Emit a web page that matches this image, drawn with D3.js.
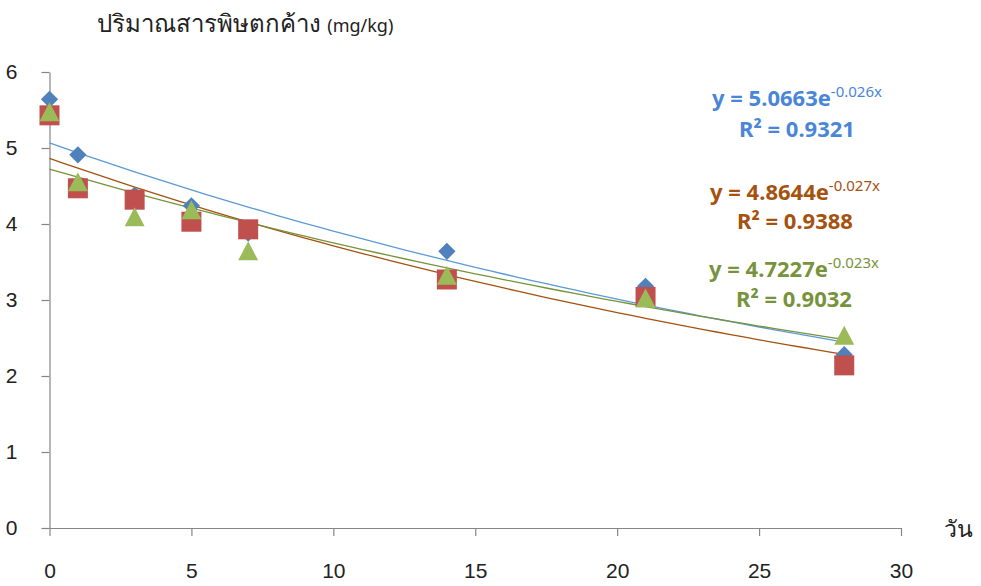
<!DOCTYPE html>
<html lang="th">
<head>
<meta charset="UTF-8">
<title>Residue decay</title>
<script src="https://d3js.org/d3.v7.min.js"></script>
<style>
    body { margin: 0; background: #fff; }
    svg { font-family: 'Noto Sans', 'DejaVu Sans', sans-serif; }
    .tick text { font-size: 21px; fill: #222; }
    .eq { font-weight: bold; font-size: 22px; text-anchor: middle; }
</style>
</head>
<body>
<script>
// days sampled
const days = [0, 1, 3, 5, 7, 14, 21, 28];

// residue values (mg/kg), three series
const seriesA = [5.64, 4.91, 4.38, 4.24, 3.88, 3.64, 3.18, 2.28];
const seriesB = [5.43, 4.47, 4.32, 4.03, 3.93, 3.27, 3.04, 2.14];
const seriesC = [5.47, 4.55, 4.09, 4.18, 3.64, 3.32, 3.02, 2.53];

// exponential trend coefficients y = a * e^(b x)
const trendA = { a: 5.0663, b: -0.026, r2: "0.9321" };
const trendB = { a: 4.8644, b: -0.027, r2: "0.9388" };
const trendC = { a: 4.7227, b: -0.023, r2: "0.9032" };

const xTicks = [0, 5, 10, 15, 20, 25, 30];
const yTicks = [0, 1, 2, 3, 4, 5, 6];

const W = 981, H = 586;
const svg = d3.select("body").append("svg")
    .attr("width", W).attr("height", H);

const x = d3.scaleLinear().domain([0, 30]).range([49.5, 901]);
const y = d3.scaleLinear().domain([0, 6]).range([528, 72]);

// axes
const xAxis = svg.append("g")
    .attr("transform", "translate(0,528)")
    .call(d3.axisBottom(x).tickValues(xTicks).tickFormat(d3.format("d"))
        .tickSize(8).tickSizeOuter(0).tickPadding(27));
const yAxis = svg.append("g")
    .attr("transform", "translate(49.5,0)")
    .call(d3.axisLeft(y).tickValues(yTicks).tickFormat(d3.format("d"))
        .tickSize(8).tickSizeOuter(0).tickPadding(24));
[xAxis, yAxis].forEach(g => {
    g.selectAll("path, line").attr("stroke", "#868686").attr("stroke-width", 1.2);
});

// trend lines
const trendDays = d3.range(0, 28.01, 0.5);
const line = d3.line().x(d => x(d[0])).y(d => y(d[1]));
const trends = [
    { t: trendA, color: "#5b9bd5" },
    { t: trendB, color: "#a5520f" },
    { t: trendC, color: "#77933c" }
];
trends.forEach(tr => {
    svg.append("path")
        .datum(trendDays.map(d => [d, tr.t.a * Math.exp(tr.t.b * d)]))
        .attr("fill", "none")
        .attr("stroke", tr.color)
        .attr("stroke-width", 1.3)
        .attr("d", line);
});

// markers
const diamond = d3.symbol().type(d3.symbolDiamond2).size(190);
svg.append("g").selectAll("path")
    .data(days.map((d, i) => [d, seriesA[i]]))
    .join("path")
    .attr("d", diamond)
    .attr("fill", "#4f81bd")
    .attr("transform", d => `translate(${x(d[0])},${y(d[1])})`);

svg.append("g").selectAll("rect")
    .data(days.map((d, i) => [d, seriesB[i]]))
    .join("rect")
    .attr("x", d => x(d[0]) - 10).attr("y", d => y(d[1]) - 10)
    .attr("width", 20).attr("height", 20)
    .attr("fill", "#c0504d");

svg.append("g").selectAll("path")
    .data(days.map((d, i) => [d, seriesC[i]]))
    .join("path")
    .attr("d", d => {
        const cx = x(d[0]), cy = y(d[1]);
        return `M${cx},${cy - 10}L${cx + 10},${cy + 9}L${cx - 10},${cy + 9}Z`;
    })
    .attr("fill", "#9bbb59");

// equations
const labels = [
    { t: trendA, color: "#4a86d8", cx: 797, y1: 106, y2: 137 },
    { t: trendB, color: "#a5520f", cx: 795, y1: 200, y2: 229 },
    { t: trendC, color: "#77933c", cx: 794, y1: 277, y2: 307 }
];
labels.forEach(l => {
    const t1 = svg.append("text").attr("class", "eq").attr("fill", l.color)
        .attr("x", l.cx).attr("y", l.y1);
    t1.append("tspan").text(`y = ${l.t.a.toFixed(4)}e`);
    t1.append("tspan").attr("dy", -9).attr("font-size", 15).attr("font-weight", "normal")
        .text(`${l.t.b}x`);
    svg.append("text").attr("class", "eq").attr("fill", l.color)
        .attr("x", l.cx).attr("y", l.y2)
        .text(`R² = ${l.t.r2}`);
});

// titles
svg.append("text").attr("x", 97).attr("y", 32)
    .attr("font-size", 24).attr("fill", "#222")
    .text("ปริมาณสารพิษตกค้าง ")
    .append("tspan").attr("font-size", 18).text("(mg/kg)");
svg.append("text").attr("x", 944).attr("y", 537)
    .attr("font-size", 23).attr("fill", "#222")
    .text("วัน");
</script>
</body>
</html>
